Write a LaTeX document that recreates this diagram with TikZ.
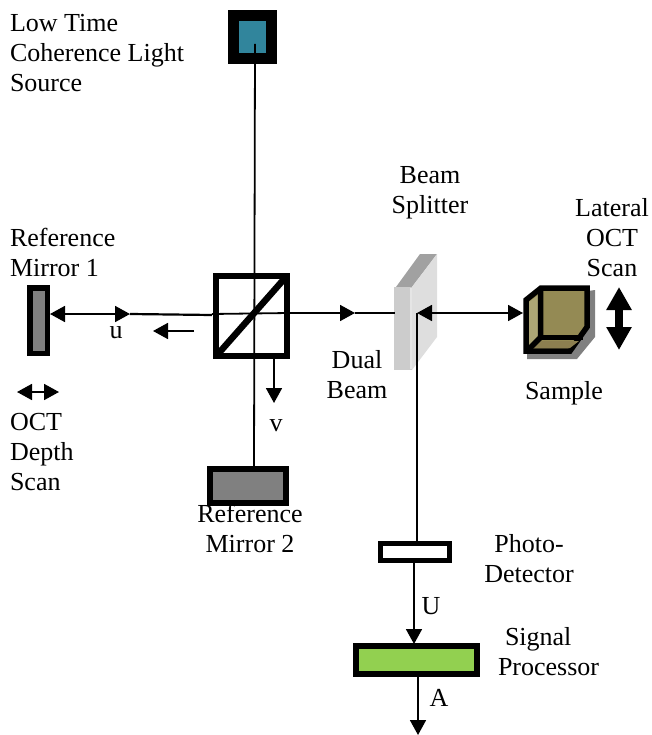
\documentclass[tikz,border=0pt]{standalone}
\usepackage{fontspec}
\setmainfont{Liberation Serif}
\usetikzlibrary{arrows.meta}
\definecolor{srcblue}{HTML}{31859C}
\definecolor{procgreen}{HTML}{92D050}
\definecolor{olive}{HTML}{948A54}
\definecolor{olivelight}{HTML}{ADA675}
\definecolor{olivedark}{HTML}{8C7F50}
\tikzset{
 x=1pt,y=-1pt,
 lab/.style={inner sep=0pt,outer sep=0pt,font=\fontsize{26}{30}\selectfont,align=#1},
 lab/.default=center,
 boxed/.style={draw=black,line width=6pt,inner sep=0pt,outer sep=3pt},
 beam/.style={line width=1.8pt},
 tip/.style={-{Triangle[length=15pt,width=16pt]},line width=1.8pt},
 dbl/.style={{Triangle[length=15pt,width=16pt]}-{Triangle[length=15pt,width=16pt]},line width=1.8pt},
}
\begin{document}
\begin{tikzpicture}
\useasboundingbox (0,0) rectangle (651,735);
% shapes
\node[boxed,fill=srcblue,minimum width=38pt,minimum height=43pt,line width=11pt,outer sep=5.5pt] (src) at (252.5,37) {};
\node[boxed,fill=black!50,minimum width=17.5pt,minimum height=65.5pt,line width=5.5pt,outer sep=2.75pt] (mirA) at (38.5,320.5) {};
\node[boxed,fill=black!50,minimum width=76pt,minimum height=34pt] (mirB) at (248,486) {};
\node[boxed,minimum width=71pt,minimum height=80pt] (cube) at (251,316) {};
\draw[line width=6.5pt] (218,354) -- (285,278);
\node[boxed,fill=white,minimum width=69pt,minimum height=17pt,line width=5pt,outer sep=2.5pt] (det) at (415,552) {};
\node[boxed,fill=procgreen,minimum width=121pt,minimum height=28pt] (proc) at (416.5,660) {};
% beam splitter
\fill[black!37] (396,287) -- (420,254) -- (437,254) -- (412,287) -- cycle;
\fill[black!13] (412,287) -- (437,254) -- (437,337) -- (412,370) -- cycle;
\fill[black!20] (394,287) rectangle (412,370);
\fill[black!10] (410,288) rectangle (412,369);
\coordinate (split) at (417,313);
\coordinate (splitL) at (395,313);
% sample
\fill[black!50] (527,300) -- (595,290) -- (595,337) -- (577,359) -- (527,359) -- cycle;
\draw[line width=5.5pt,line join=miter,fill=olive] (526,300) -- (541,288) -- (587,288) -- (587,327) -- (570,351) -- (526,351) -- cycle;
\fill[olivelight] (529,302) -- (538,295) -- (538,335) -- (529,346) -- cycle;
\fill[olivedark] (533,348) -- (542,341) -- (579,341) -- (570,348) -- cycle;
\draw[line width=5.5pt] (540.5,288) -- (540.5,337.5) -- (527,351);
\draw[line width=5.5pt] (540,337.5) -- (583,337.5);
\coordinate (samp) at (523,313);
% connectors
\coordinate (srcIn) at (255,44);
\coordinate (mirBtop) at (254,466);
\coordinate (cubeL) at (212,315);
\coordinate (cubeR) at (289,313);
\coordinate (mirAR) at (50,314);
\coordinate (uTip) at (130,314);
\draw[beam] (srcIn) -- (mirBtop);
\draw[dbl] (mirAR) -- (uTip);
\draw[line width=2.2pt] (uTip) -- (cubeL);
\draw[beam] (212,314) -- (cubeR);
\coordinate (dualTip) at (355,313);
\draw[tip] (cubeR) -- (dualTip);
\draw[beam] (dualTip) -- (splitL);
\draw[dbl] (split) -- (samp);
\coordinate (detTop) at (417,541);
\draw[beam] (split) -- (detTop);
\coordinate (bk1) at (194,331);
\coordinate (bk2) at (153,331);
\draw[tip] (bk1) -- (bk2);
\coordinate (v1) at (274,353);
\coordinate (v2) at (274,403);
\draw[tip] (v1) -- (v2);
\coordinate (d1) at (414,563);
\coordinate (d2) at (414,644);
\draw[tip] (d1) -- (d2);
\coordinate (a1) at (418,677);
\coordinate (a2) at (418,735);
\draw[tip] (a1) -- (a2);
\coordinate (o1) at (17,392);
\coordinate (o2) at (59,392);
\draw[dbl] (o1) -- (o2);
\coordinate (l1) at (619,287);
\coordinate (l2) at (619,350);
\draw[{Triangle[length=23pt,width=24pt]}-{Triangle[length=23pt,width=24pt]},line width=8pt] (l1) -- (l2);
% labels
\node[lab=left,anchor=base west] (t1) at (10,92) {Low Time\\Coherence Light\\Source};
\node[lab=left,anchor=base west] (t2) at (10,276) {Reference\\Mirror 1};
\node[lab=left,anchor=base west] (t3) at (10,490) {OCT\\Depth\\Scan};
\node[lab,anchor=base] (t4) at (430,214) {Beam\\Splitter};
\node[lab,anchor=base] (t5) at (612,276) {Lateral\\OCT\\Scan};
\node[lab,anchor=base] (t6) at (357,398) {Dual\\Beam};
\node[lab,anchor=base] (t7) at (564,399) {Sample};
\node[lab,anchor=base] (t8) at (250,552) {Reference\\Mirror 2};
\node[lab,anchor=base] (t9) at (529,582) {Photo-\\Detector};
\node[lab=left,anchor=base west] (t10) at (498,675) {\hspace*{7pt}Signal\\Processor};
\node[lab,anchor=base] (t11) at (116,338) {u};
\node[lab,anchor=base] (t12) at (276,431) {v};
\node[lab,anchor=base] (t13) at (431,614) {U};
\node[lab,anchor=base] (t14) at (439,706) {A};
\end{tikzpicture}
\end{document}
